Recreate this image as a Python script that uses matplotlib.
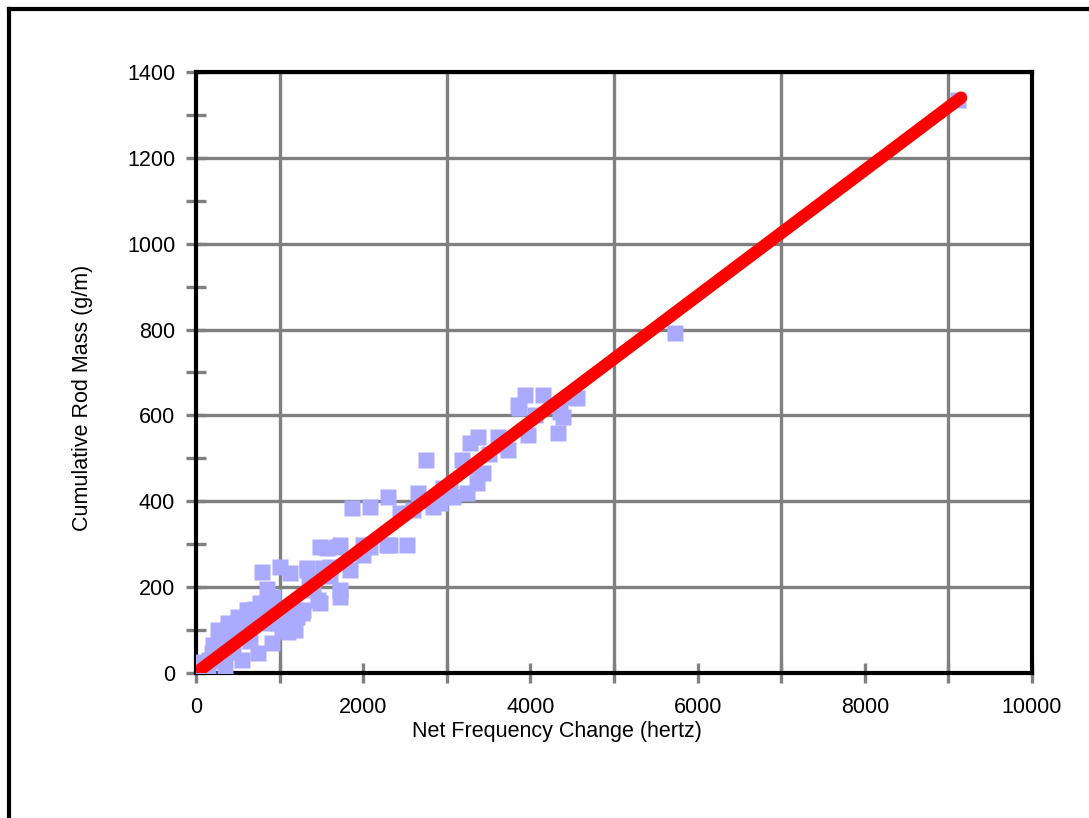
import matplotlib
matplotlib.use("Agg")
import matplotlib.pyplot as plt
from matplotlib.lines import Line2D

plt.rcParams['font.family'] = ['Liberation Sans', 'DejaVu Sans']

# measured points (net frequency change in hertz, cumulative rod mass in g/m)
freq = [9113, 5729, 4557, 4473, 4150, 3935, 3851, 4353, 4389, 3863,
        4330, 3971, 3612, 3373, 3732, 3277, 3181, 3433, 3361, 3241,
        3038, 2918, 2835, 2655, 2595, 2751, 2679, 2440, 2296, 2081,
        1866, 2524, 2320, 2081, 1686, 1483, 1997, 1842, 1519, 1328,
        1722, 1399, 1005, 789, 1124, 1603, 1722, 1459, 1280, 1483,
        921, 765, 610, 1029, 1208, 885, 1268, 981, 742, 622,
        466, 347, 191, 24, 0, 825, 622, 502, 383, 263,
        1184, 909, 742, 550, 347, 144, 1567, 2284, 1997, 1722,
        1328, 3074, 442, 227, 300, 200, 420, 480, 560, 680,
        700, 600, 150, 80, 1100, 1050, 950, 1150, 850, 400,
        250, 520, 640, 1350, 1600, 3500, 3650, 4050, 3300, 2950]
mass = [1335, 792, 640, 643, 647, 647, 624, 608, 596, 617,
        559, 554, 550, 550, 519, 536, 496, 466, 443, 419,
        426, 396, 387, 419, 380, 496, 403, 373, 410, 387,
        384, 298, 298, 293, 293, 293, 275, 240, 245, 240,
        193, 193, 247, 235, 233, 247, 177, 170, 147, 163,
        177, 163, 147, 100, 130, 116, 140, 116, 130, 93,
        84, 70, 47, 23, 12, 163, 147, 130, 116, 100,
        100, 70, 47, 30, 14, 2, 291, 298, 298, 298,
        245, 410, 49, 30, 40, 65, 60, 110, 120, 120,
        150, 110, 30, 25, 95, 130, 150, 150, 195, 90,
        55, 95, 75, 215, 225, 510, 530, 600, 480, 430]

# fitted line
fit_x = [0, 9150]
fit_y = [0, 1340]

fig = plt.figure(figsize=(10.89, 8.18), dpi=100)
ax = fig.add_axes([0.18, 0.1773, 0.7677, 0.7347])

ax.plot(freq, mass, 's', color='#aaaaff', ms=12, mec='none', zorder=3)
ax.plot(fit_x, fit_y, '-', color='#ff0000', lw=9, solid_capstyle='round', zorder=4)

ax.set_xlim(0, 10000)
ax.set_ylim(0, 1400)
ax.set_xticks(range(0, 10001, 2000))
ax.set_xticks(range(1000, 10000, 2000), minor=True)
ax.set_yticks(range(0, 1401, 200))
ax.set_yticks(range(100, 1400, 200), minor=True)

ax.grid(False)
ax.xaxis.grid(True, which='minor', color='#808080', lw=2.4)
ax.yaxis.grid(True, which='major', color='#808080', lw=2.4)
ax.set_axisbelow(True)

ax.tick_params(which='both', direction='inout', length=14, width=2.4, color='#808080',
               labelsize=15.5)
ax.tick_params(axis='x', which='both', pad=10)
ax.tick_params(axis='y', which='both', pad=8)

for s in ax.spines.values():
    s.set_linewidth(3)
    s.set_color('black')

ax.set_xlabel('Net Frequency Change (hertz)', fontsize=15.5)
ax.set_ylabel('Cumulative Rod Mass (g/m)', fontsize=15.5)
ax.xaxis.set_label_coords(0.432, -0.080)
ax.yaxis.set_label_coords(-0.123, 0.457)

# outer frame (left and top edges visible)
fig.add_artist(Line2D([9/1089, 9/1089], [0, 1 - 9/818], color='black', lw=3,
                      transform=fig.transFigure))
fig.add_artist(Line2D([9/1089, 1], [1 - 9/818, 1 - 9/818], color='black', lw=3,
                      transform=fig.transFigure))

fig.savefig('out.png', dpi=100)
